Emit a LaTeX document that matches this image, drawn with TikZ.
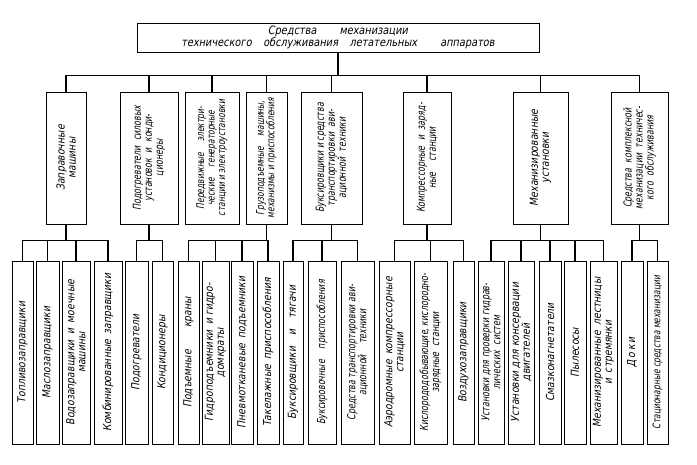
\documentclass[tikz,border=0pt]{standalone}
\usepackage{fontspec}
\newfontfamily\gost{DejaVu Sans}[FakeSlant=0.18, FakeStretch=0.85]
\newfontfamily\gostn{DejaVu Sans}[FakeSlant=0.18, FakeStretch=0.72]
\tikzset{
    box/.style={rectangle, draw=black, line width=0.9pt, fill=white, inner sep=1pt, align=center, font=\gost\fontsize{11}{11}\selectfont},
    narrow/.style={font=\gostn\fontsize{11}{11}\selectfont},
    squeezed/.style={font=\gostn\fontsize{10.5}{10.5}\selectfont},
    topbox/.style={box, minimum width=402pt, minimum height=29pt, font=\gost\fontsize{11.5}{12}\selectfont},
    grpbox/.style={box, rotate=90, minimum width=132pt},
    itembox/.style={box, rotate=90, minimum width=183pt},
    link/.style={line width=1.4pt, draw=black}
}

\begin{document}
\begin{tikzpicture}[x=1pt, y=-1pt]
    \useasboundingbox (0,0) rectangle (697,464);
    % top level
    \node[topbox] (top) at (338,37.5) {Средства\quad\quad механизации\\технического\quad обслуживания\quad летательных\quad\quad аппаратов};
    % groups
    \node[grpbox, minimum height=40pt] (g1) at (66,158) {Заправочные\\машины};
    \node[grpbox, narrow, minimum height=58pt] (g2) at (149,158) {Подогреватели\enspace силовых\\установок\enspace и\enspace конди-\\ционеры};
    \node[grpbox, squeezed, minimum height=54pt] (g3) at (212,158) {Передвижные\quad электри-\\ческие\quad генераторные\\станции и электроустановки};
    \node[grpbox, squeezed, minimum height=41pt] (g4) at (266.5,158) {Грузоподъемные\quad машины,\\механизмы и приспособления};
    \node[grpbox, narrow, minimum height=61pt] (g5) at (331.5,158) {Буксировщики и средства\\транспортировки\enspace ави-\\ационной\enspace техники};
    \node[grpbox, narrow, minimum height=48pt] (g6) at (427,158) {Компрессорные\enspace и\enspace заряд-\\ные\quad станции};
    \node[grpbox, minimum height=55pt] (g7) at (540.5,158) {Механизированные\\установки};
    \node[grpbox, narrow, minimum height=57pt] (g8) at (639.5,158) {Средства\enspace комплексной\\механизации\enspace техничес-\\кого\enspace обслуживания};
    % items
    \node[itembox, minimum height=21pt] (i1) at (22.5,352.5) {Топливозаправщики};
    \node[itembox, minimum height=23pt] (i2) at (47.5,352.5) {Маслозаправщики};
    \node[itembox, minimum height=28pt] (i3) at (76,352.5) {Водозаправщики\enspace и\enspace моечные\\машины};
    \node[itembox, minimum height=28pt] (i4) at (108,352.5) {Комбинированные\enspace заправщики};
    \node[itembox, minimum height=23pt] (i5) at (136.5,352.5) {Подогреватели};
    \node[itembox, minimum height=21pt] (i6) at (162.5,352.5) {Кондиционеры};
    \node[itembox, minimum height=21pt] (i7) at (188.5,352.5) {Подъемные\quad\quad краны};
    \node[itembox, minimum height=27pt] (i8) at (215.5,352.5) {Гидроподъемники\enspace и гидро-\\домкраты};
    \node[itembox, minimum height=22pt] (i9) at (242,352.5) {Пневмотканевые\enspace подъемники};
    \node[itembox, minimum height=22pt] (i10) at (268,352.5) {Такелажные\enspace приспособления};
    \node[itembox, minimum height=20pt] (i11) at (293,352.5) {Буксировщики\quad и\quad тягачи};
    \node[itembox, narrow, minimum height=28pt] (i12) at (322,352.5) {Буксировочные\quad приспособления};
    \node[itembox, narrow, minimum height=33pt] (i13) at (357.5,352.5) {Средства транспортировки ави-\\ационной\quad техники};
    \node[itembox, minimum height=31pt] (i14) at (394.5,352.5) {Аэродромные\enspace компрессорные\\станции};
    \node[itembox, narrow, minimum height=33pt] (i15) at (430.5,352.5) {Кислорододобывающие, кислородно-\\зарядные\enspace станции};
    \node[itembox, minimum height=21pt] (i16) at (463.5,352.5) {Воздухозаправщики};
    \node[itembox, narrow, minimum height=26pt] (i17) at (491,352.5) {Установки для проверки гидрав-\\лических\enspace систем};
    \node[itembox, minimum height=26pt] (i18) at (521,352.5) {Установки для консервации\\двигателей};
    \node[itembox, minimum height=22pt] (i19) at (550,352.5) {Смазконагнетатели};
    \node[itembox, minimum height=22pt] (i20) at (575,352.5) {Пылесосы};
    \node[itembox, minimum height=27pt] (i21) at (603.5,352.5) {Механизированные\enspace лестницы\\и\enspace стремянки};
    \node[itembox, minimum height=22pt] (i22) at (632,352.5) {Д\,о\,к\,и};
    \node[itembox, squeezed, minimum height=21pt] (i23) at (657.5,352.5) {Стационарные средства механизации};
    % connectors
    \foreach \g in {g1,g2,g3,g4,g5,g6,g7,g8}
        \draw[link] (top.south) -- ++(0,23) -| (\g.east);
    \foreach \p/\kids in {g1/{i1,i2,i3,i4}, g2/{i5,i6}, g4/{i7,i8,i9,i10}, g5/{i11,i12,i13}, g6/{i14,i15,i16}, g7/{i17,i18,i19,i20,i21}, g8/{i22,i23}}
        \foreach \k in \kids
            \draw[link] (\p.west) -- ++(0,16) -| (\k.east);
\end{tikzpicture}
\end{document}
